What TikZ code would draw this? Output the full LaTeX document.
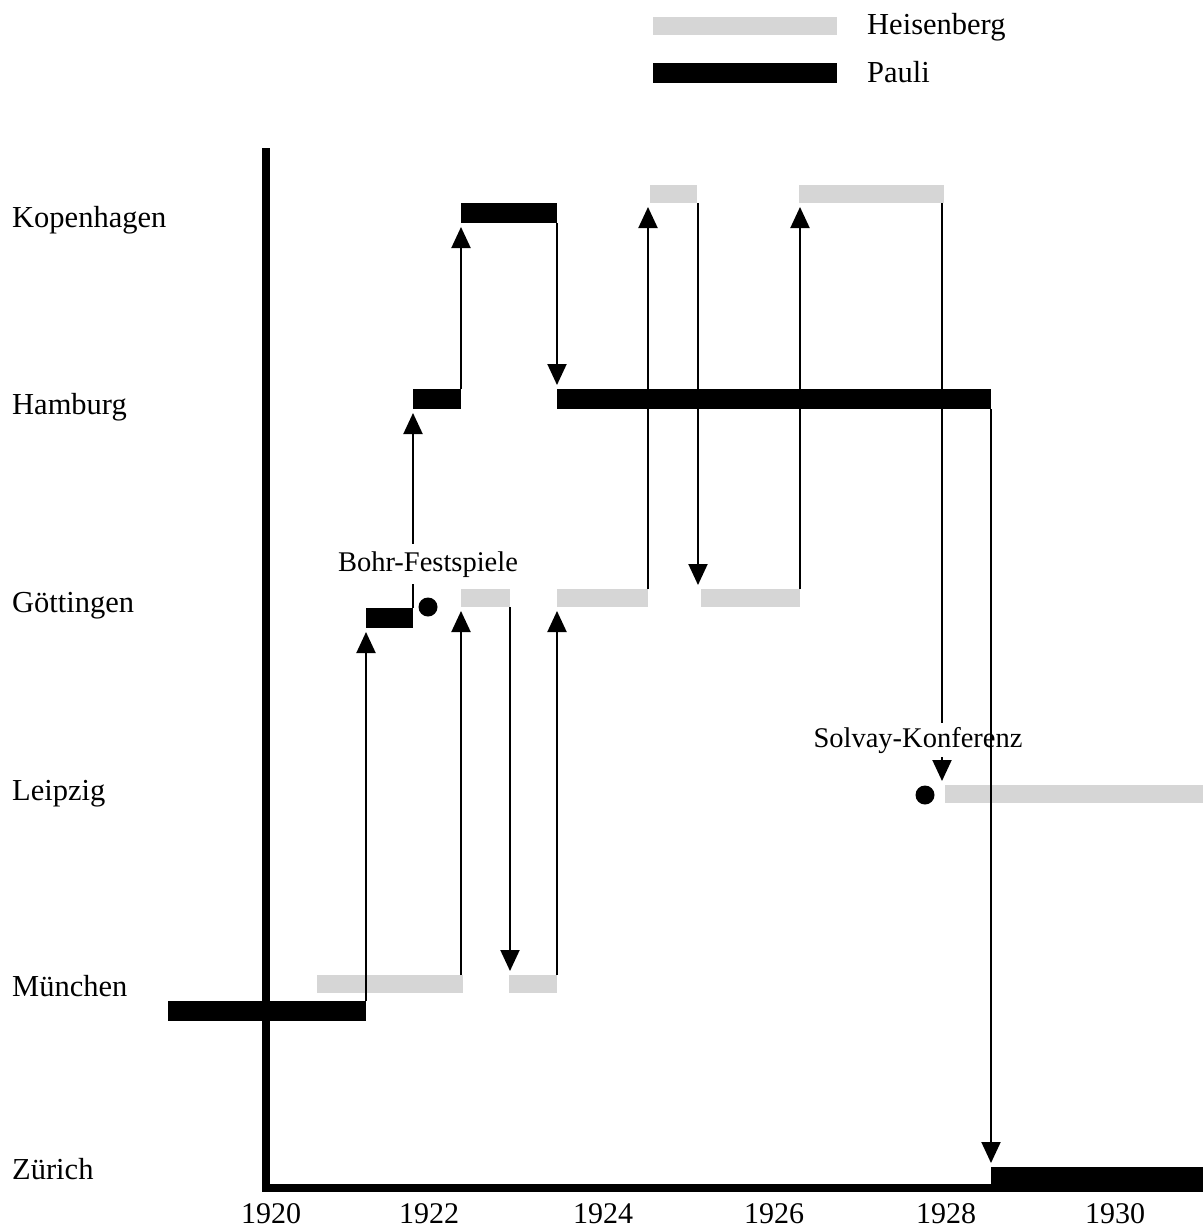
\documentclass[tikz,border=0pt]{standalone}
\usepackage{fontspec}
\setmainfont{Liberation Serif}
\usetikzlibrary{arrows.meta}
\definecolor{hgray}{RGB}{214,214,214}
\begin{document}
\begin{tikzpicture}[x=1pt,y=-1pt,
  hbar/.style={fill=hgray, draw=none, inner sep=0pt, outer sep=0pt, minimum height=18pt, anchor=north west},
  pbar/.style={fill=black, draw=none, inner sep=0pt, outer sep=0pt, minimum height=20pt, anchor=north west},
  arr/.style={line width=2pt, -{Triangle[width=19pt,length=21pt]}, shorten >=4pt},
  city/.style={font=\fontsize{30.5}{36}\selectfont, anchor=base west, inner sep=0pt},
  year/.style={font=\fontsize{30}{36}\selectfont, anchor=base, inner sep=0pt},
  note/.style={font=\fontsize{28.5}{34}\selectfont, anchor=base, fill=white, inner xsep=2pt},
  dot/.style={circle, fill=black, minimum size=19pt, inner sep=0pt},
  axis/.style={line width=8pt, line join=miter}]
\useasboundingbox (0,0) rectangle (1203,1229);

% legend
\node[hbar, minimum width=184pt] (legH) at (653,17) {};
\node[pbar, minimum width=184pt] (legP) at (653,63) {};
\node[city] (legHt) at (867,34) {Heisenberg};
\node[city] (legPt) at (867,82) {Pauli};

% city labels
\node[city] (kop) at (12,227) {Kopenhagen};
\node[city] (ham) at (12,414) {Hamburg};
\node[city] (goe) at (12,612) {Göttingen};
\node[city] (lei) at (12,800) {Leipzig};
\node[city] (mue) at (12,996) {München};
\node[city] (zue) at (12,1179) {Zürich};

% year labels
\node[year] (y1920) at (271,1223) {1920};
\node[year] (y1922) at (429,1223) {1922};
\node[year] (y1924) at (603,1223) {1924};
\node[year] (y1926) at (774,1223) {1926};
\node[year] (y1928) at (946,1223) {1928};
\node[year] (y1930) at (1115,1223) {1930};

% Heisenberg bars
\node[hbar, minimum width=146pt] (hM1) at (317,975) {};
\node[hbar, minimum width=48pt]  (hM2) at (509,975) {};
\node[hbar, minimum width=49pt]  (hG1) at (461,589) {};
\node[hbar, minimum width=91pt]  (hG2) at (557,589) {};
\node[hbar, minimum width=99pt]  (hG3) at (701,589) {};
\node[hbar, minimum width=47pt]  (hK1) at (650,185) {};
\node[hbar, minimum width=145pt] (hK2) at (799,185) {};
\node[hbar, minimum width=258pt] (hL)  at (945,785) {};

% Pauli bars
\node[pbar, minimum width=198pt] (pM)  at (168,1001) {};
\node[pbar, minimum width=47pt]  (pG)  at (366,608) {};
\node[pbar, minimum width=48pt]  (pH1) at (413,389) {};
\node[pbar, minimum width=96pt]  (pK)  at (461,203) {};
\node[pbar, minimum width=434pt] (pH2) at (557,389) {};
\node[pbar, minimum width=212pt, minimum height=25pt] (pZ) at (991,1167) {};

% axes
\draw[axis] (266,148) -- (266,1187.5) -- (1203,1187.5);

% Heisenberg moves
\draw[arr] (hG1.south west |- hM1.north) -- (hG1.south west);
\draw[arr] (510,607) -- (510,975);
\draw[arr] (hM2.north east) -- (hM2.north east |- hG2.south);
\draw[arr] (hG2.north east) -- (hG2.north east |- hK1.south);
\draw[arr] (698,203) -- (698,589);
\draw[arr] (hG3.north east) -- (hG3.north east |- hK2.south);
\draw[arr] (942,203) -- (942,785);

% Pauli moves
\draw[arr] (pG.south west |- pM.north) -- (pG.south west);
\draw[arr] (pG.north east) -- (pH1.south west);
\draw[arr] (pH1.north east) -- (pK.south west);
\draw[arr] (pK.south east) -- (pH2.north west);

% annotations
\node[note, inner ysep=7pt] (bohr) at (428,571) {Bohr-Festspiele};
\node[note, inner ysep=4pt] (solvay) at (918,747) {Solvay-Konferenz};
\node[dot] (bohrdot) at (428,607) {};
\node[dot] (solvaydot) at (925,795) {};

\draw[arr] (pH2.south east) -- (pZ.north west);
\end{tikzpicture}
\end{document}
